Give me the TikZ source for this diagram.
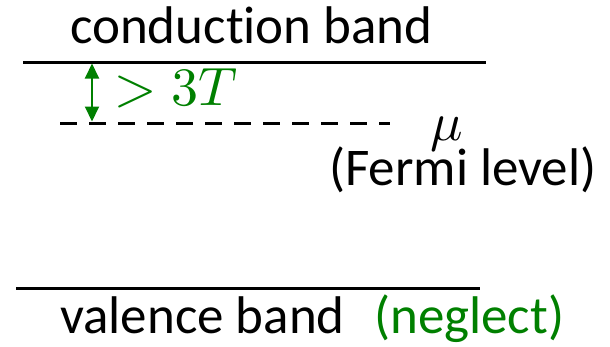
\documentclass[tikz,border=0pt]{standalone}
\usepackage{fontspec}
\usepackage{unicode-math}
\setmainfont{Carlito}[Ligatures=NoCommon]
\setmathfont{Latin Modern Math}
\usetikzlibrary{arrows.meta}
\definecolor{mygreen}{RGB}{0,128,0}
\begin{document}
\begin{tikzpicture}[x=1pt,y=-1pt,
  lbl/.style={inner sep=0pt,anchor=base west,font=\fontsize{53}{60}\selectfont},
  band/.style={line width=3pt},
  fermi/.style={line width=3pt,dash pattern=on 17pt off 12pt},
  gap/.style={mygreen,line width=2pt,{Triangle[width=14pt,length=15pt]}-{Triangle[width=14pt,length=15pt]}}]
\useasboundingbox (0,0) rectangle (610,346);
\node[lbl] (cb) at (70,43) {conduction band};
\coordinate (c1) at (23,62);
\coordinate (c2) at (486,62);
\draw[band] (c1) -- (c2);
\coordinate (f1) at (60,123);
\coordinate (f2) at (390,123);
\draw[fermi] (f1) -- (f2);
\coordinate (a1) at (92,63.5);
\coordinate (a2) at (92,121.5);
\draw[gap] (a1) -- (a2);
\node[lbl,text=mygreen,font=\fontsize{54}{60}\selectfont] (gt) at (114,105) {$>3T$};
\node[lbl,font=\fontsize{54}{60}\selectfont] (mu) at (430,140) {$\mu$};
\node[lbl] (fl) at (329,185) {(Fermi level)};
\coordinate (v1) at (16,288);
\coordinate (v2) at (480,288);
\draw[band] (v1) -- (v2);
\node[lbl] (vb) at (60,333) {valence band};
\node[lbl,text=mygreen] (ng) at (374,333) {(neglect)};
\end{tikzpicture}
\end{document}
